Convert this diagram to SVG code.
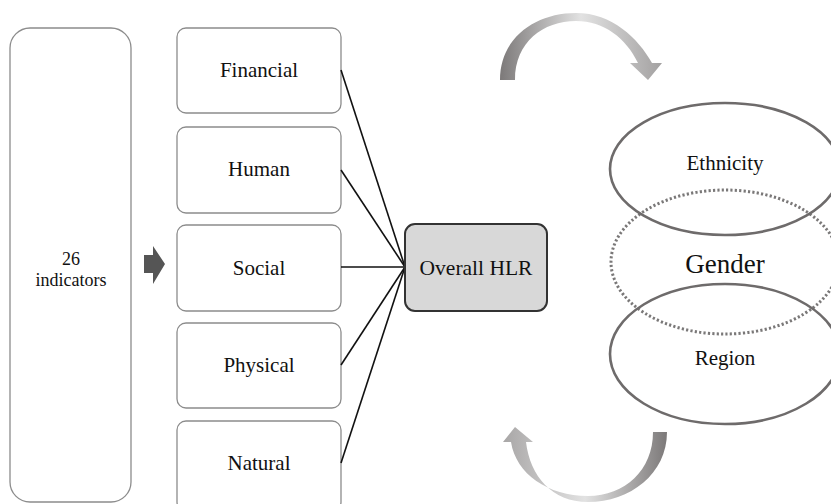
<svg xmlns="http://www.w3.org/2000/svg" width="831" height="504" viewBox="0 0 831 504">
<defs>
<style>
.box{fill:#fff;stroke:#8c8c8c;stroke-width:1.3}
.t{fill:#111;text-anchor:middle}
.conn{stroke:#111;stroke-width:1.6;fill:none}
.ell{fill:none;stroke:#6e6b6b;stroke-width:2.6}
.dot{fill:none;stroke:#7a7878;stroke-width:3;stroke-dasharray:2.2 2.2}
</style>
<linearGradient id="gTop" x1="500" y1="0" x2="662" y2="0" gradientUnits="userSpaceOnUse">
<stop offset="0" stop-color="#7c7979"/>
<stop offset="0.5" stop-color="#e2e2e2"/>
<stop offset="1" stop-color="#a3a1a1"/>
</linearGradient>
<linearGradient id="gBot" x1="667" y1="0" x2="503" y2="0" gradientUnits="userSpaceOnUse">
<stop offset="0" stop-color="#7c7979"/>
<stop offset="0.5" stop-color="#e2e2e2"/>
<stop offset="1" stop-color="#a8a6a6"/>
</linearGradient>
</defs>
<rect width="831" height="504" fill="#fff"/>

<g font-family="'Liberation Serif', 'DejaVu Serif', serif">
<g id="indicators">
<rect class="box" x="10" y="28" width="121" height="474" rx="20"/>
<text class="t" x="71" y="265" font-size="18">26</text>
<text class="t" x="71" y="286" font-size="18">indicators</text>
</g>

<g id="arrow-small">
<path d="M144,255 L153,255 L153,246 L165,264 L153,284 L153,273 L144,273 Z" fill="#555"/>
</g>

<g id="financial">
<rect class="box" x="177" y="28" width="164" height="85" rx="9"/>
<text class="t" x="259" y="77" font-size="21">Financial</text>
</g>
<g id="human">
<rect class="box" x="177" y="127" width="164" height="86" rx="9"/>
<text class="t" x="259" y="176" font-size="21">Human</text>
</g>
<g id="social">
<rect class="box" x="177" y="225" width="164" height="86" rx="9"/>
<text class="t" x="259" y="275" font-size="21">Social</text>
</g>
<g id="physical">
<rect class="box" x="177" y="323" width="164" height="85" rx="9"/>
<text class="t" x="259" y="372" font-size="21">Physical</text>
</g>
<g id="natural">
<rect class="box" x="177" y="421" width="164" height="90" rx="9"/>
<text class="t" x="259" y="470" font-size="21">Natural</text>
</g>

<g id="connectors">
<line class="conn" x1="341" y1="70" x2="405" y2="267"/>
<line class="conn" x1="341" y1="170" x2="405" y2="267"/>
<line class="conn" x1="341" y1="267" x2="405" y2="267"/>
<line class="conn" x1="341" y1="365" x2="405" y2="267"/>
<line class="conn" x1="341" y1="463" x2="405" y2="267"/>
</g>

<g id="overall-hlr">
<rect x="405" y="224" width="142" height="87" rx="10" fill="#d8d8d8" stroke="#333" stroke-width="2"/>
<text class="t" x="476" y="275" font-size="21.5">Overall HLR</text>
</g>

<g id="cycle-top">
<path d="M500,80 C500,38 535,13 576,13 C612,13 638,38 652,63 L662,63 L648,80 L630,63 L638,63 C626,38 604,21 576,21 C543,21 515,42 515,80 Z" fill="url(#gTop)"/>
</g>
<g id="cycle-bottom">
<path d="M653,432 L667,432 C667,474 630,502 588,502 C552,502 530,476 526,442 L533,442 L515,427 L503,442 L511,442 C516,474 548,496 588,496 C625,496 653,470 653,432 Z" fill="url(#gBot)"/>
</g>

<g id="gender">
<ellipse class="dot" cx="725" cy="262" rx="114" ry="72"/>
<text class="t" x="725" y="273" font-size="27">Gender</text>
</g>
<g id="ethnicity">
<ellipse class="ell" cx="725" cy="169" rx="115" ry="66"/>
<text class="t" x="725" y="170" font-size="21">Ethnicity</text>
</g>
<g id="region">
<ellipse class="ell" cx="725" cy="354" rx="115" ry="70"/>
<text class="t" x="725" y="365" font-size="21">Region</text>
</g>
</g>
</svg>
